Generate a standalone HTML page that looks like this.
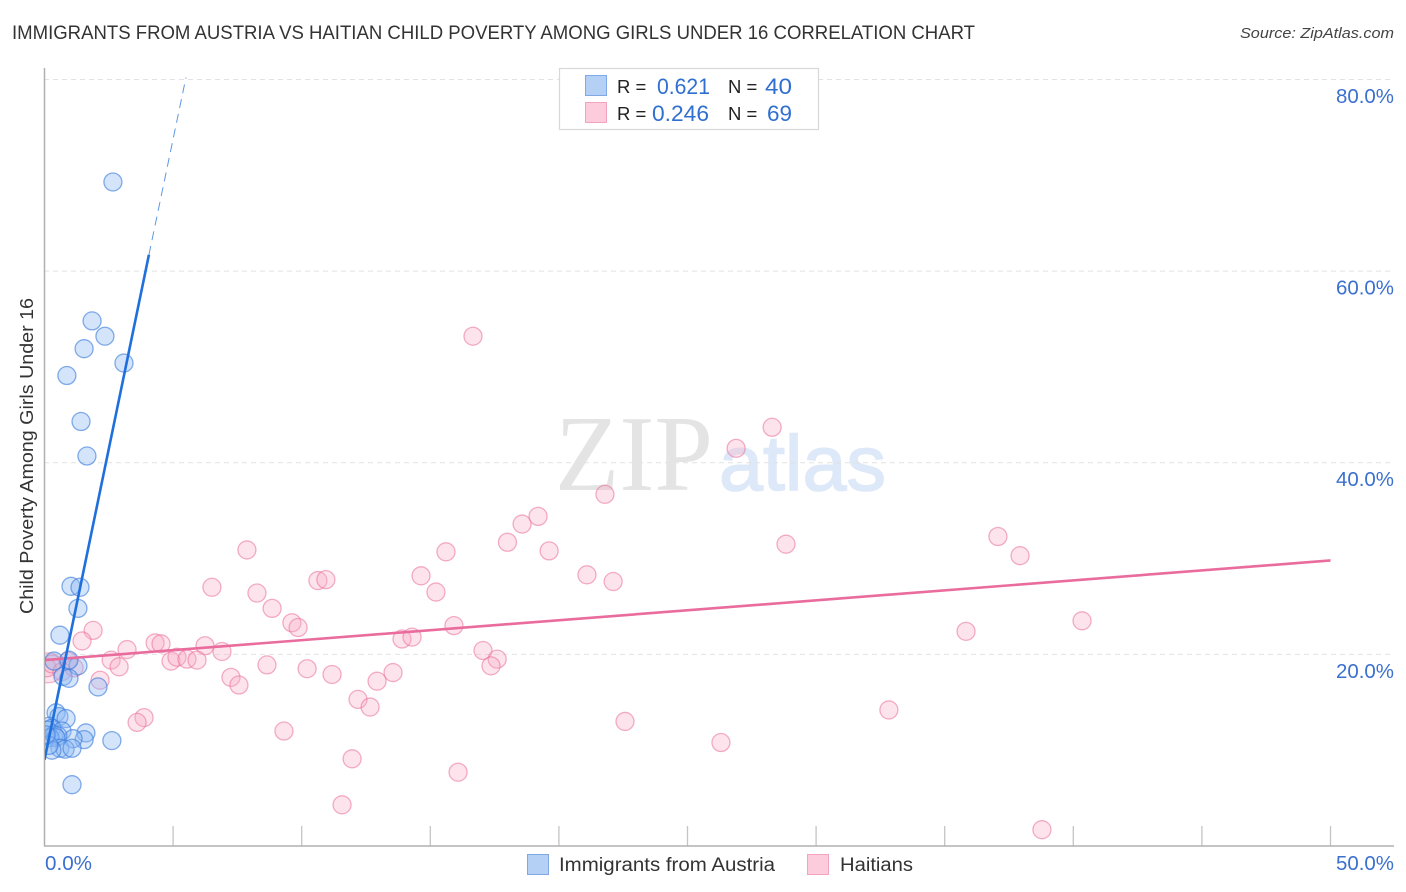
<!DOCTYPE html>
<html lang="en">
<head>
<meta charset="utf-8">
<title>Immigrants from Austria vs Haitian Child Poverty Correlation Chart</title>
<style>
html,body{margin:0;padding:0;background:#fff;width:1406px;height:892px;overflow:hidden}
svg{display:block;font-family:"Liberation Sans",sans-serif}
</style>
</head>
<body>
<svg id="chart" width="1406" height="892" viewBox="0 0 1406 892" xmlns="http://www.w3.org/2000/svg">
  <defs><clipPath id="plot-clip"><rect x="45" y="60" width="1349" height="786"/></clipPath></defs>
  <text x="12" y="39" font-size="19.5" fill="#333" textLength="963" lengthAdjust="spacingAndGlyphs">IMMIGRANTS FROM AUSTRIA VS HAITIAN CHILD POVERTY AMONG GIRLS UNDER 16 CORRELATION CHART</text>
  <text x="1240" y="38" font-size="15" font-style="italic" fill="#444" textLength="154" lengthAdjust="spacingAndGlyphs">Source: ZipAtlas.com</text>
  <g id="watermark">
    <text x="555" y="490" font-family="'Liberation Serif',serif" font-size="108" fill="#e4e4e4" textLength="158" lengthAdjust="spacingAndGlyphs">ZIP</text>
    <text x="719" y="490" font-size="78" fill="#dde8f8" stroke="#dde8f8" stroke-width="1.5" textLength="167" lengthAdjust="spacingAndGlyphs">atlas</text>
  </g>
  <g id="grid"></g>
  <g id="ticks"></g>
  <line x1="44.5" y1="68" x2="44.5" y2="846" stroke="#b0b0b0" stroke-width="1.5"/>
  <line x1="44" y1="846" x2="1394" y2="846" stroke="#b0b0b0" stroke-width="1.5"/>
  <text transform="translate(33,456) rotate(-90)" font-size="18" fill="#333" text-anchor="middle" textLength="316" lengthAdjust="spacingAndGlyphs">Child Poverty Among Girls Under 16</text>
  <g id="y-labels"></g>
  <g id="x-labels"></g>
  <g id="points" clip-path="url(#plot-clip)"></g>
  <g id="trend-lines" clip-path="url(#plot-clip)"></g>

  <g>
    <rect x="559.5" y="68.5" width="259" height="61" fill="#fff" stroke="#d8d8d8" stroke-width="1.2"/>
    <rect x="585.5" y="75.5" width="21" height="20" fill="#b5d0f5" stroke="#7fa8e6"/>
    <rect x="585.5" y="102.5" width="21" height="20" fill="#fccbdc" stroke="#f2a3bf"/>
    <text x="617" y="93" font-size="18.5" fill="#222">R =</text>
    <text x="657" y="94" font-size="22" fill="#2f6fd0" textLength="53" lengthAdjust="spacingAndGlyphs">0.621</text>
    <text x="728" y="93" font-size="18.5" fill="#222">N =</text>
    <text x="765" y="94" font-size="22" fill="#2f6fd0" textLength="27" lengthAdjust="spacingAndGlyphs">40</text>
    <text x="617" y="120" font-size="18.5" fill="#222">R =</text>
    <text x="652" y="121" font-size="22" fill="#2f6fd0" textLength="57" lengthAdjust="spacingAndGlyphs">0.246</text>
    <text x="728" y="120" font-size="18.5" fill="#222">N =</text>
    <text x="767" y="121" font-size="22" fill="#2f6fd0" textLength="25" lengthAdjust="spacingAndGlyphs">69</text>
  </g>

  <g>
    <rect x="527.5" y="854.5" width="21" height="20" fill="#b5d0f5" stroke="#7fa8e6"/>
    <text x="559" y="871" font-size="19" fill="#333" textLength="216" lengthAdjust="spacingAndGlyphs">Immigrants from Austria</text>
    <rect x="807.5" y="854.5" width="21" height="20" fill="#fccbdc" stroke="#f2a3bf"/>
    <text x="840" y="871" font-size="19" fill="#333" textLength="73" lengthAdjust="spacingAndGlyphs">Haitians</text>
  </g>
</svg>
<script>
var xTickValues = [5, 10, 15, 20, 25, 30, 35, 40, 45, 50];
var yTickValues = [20, 40, 60, 80];
var yTickLabels = ["20.0%", "40.0%", "60.0%", "80.0%"];
var xLabelValues = [0, 50];
var xLabelTexts = ["0.0%", "50.0%"];

var austriaX = [2.66,1.85,2.35,1.54,3.09,0.87,1.42,1.65,1.03,1.38,1.30,0.60,0.37,1.30,0.95,0.72,0.95,2.08,0.45,0.56,0.84,0.17,0.29,0.10,0.68,1.61,1.54,1.11,2.62,0.37,0.52,0.21,0.45,0.60,0.80,1.07,0.29,0.17,1.07,0.06];
var austriaY = [69.3,54.8,53.2,51.9,50.4,49.1,44.3,40.7,27.1,27.0,24.8,22.0,19.3,18.8,19.4,17.7,17.5,16.6,13.9,13.5,13.3,12.5,12.3,12.1,12.0,11.8,11.1,11.2,11.0,11.6,11.5,11.3,11.3,10.2,10.1,10.2,10.0,10.5,6.4,11.6];

var haitiansX = [16.66,28.29,26.89,21.79,18.57,19.19,18.0,19.62,15.61,7.87,28.83,37.07,37.93,21.09,22.11,14.64,10.63,10.94,6.51,8.26,15.22,8.85,9.62,9.86,15.92,40.34,35.83,1.89,1.46,13.9,14.29,4.3,4.53,3.21,6.24,6.9,17.05,17.6,17.36,2.59,2.9,4.92,5.15,5.54,5.93,8.65,10.21,11.18,13.55,12.93,7.25,7.56,2.16,12.19,12.66,32.83,22.57,3.87,3.6,9.31,26.3,11.96,16.08,11.57,38.78,0.10,0.29,0.91,0.68,1.15];
var haitiansY = [53.2,43.7,41.5,36.7,33.6,34.4,31.7,30.8,30.7,30.9,31.5,32.3,30.3,28.3,27.6,28.2,27.7,27.8,27.0,26.4,26.5,24.8,23.3,22.8,23.0,23.5,22.4,22.5,21.4,21.6,21.8,21.2,21.1,20.5,20.9,20.3,20.4,19.5,18.8,19.4,18.7,19.3,19.7,19.5,19.4,18.9,18.5,17.9,18.1,17.2,17.6,16.8,17.3,15.3,14.5,14.2,13.0,13.4,12.9,12.0,10.8,9.1,7.7,4.3,1.7,18.6,19.0,19.3,18.2,18.6];

var haitiansClusterX = [0.15];
var haitiansClusterY = [18.6];

var austriaTrendSolidX = [0, 4.06];
var austriaTrendSolidY = [9.0, 61.7];
var austriaTrendDashedX = [4.06, 5.5];
var austriaTrendDashedY = [61.7, 80.2];
var haitiansTrendX = [0, 50];
var haitiansTrendY = [19.4, 29.8];

var SVGNS = "http://www.w3.org/2000/svg";
function xScale(v) { return 44.5 + v * 25.72; }
function yScale(v) { return 846 - v * 9.582; }
function make(tag, attrs, parent) {
  var el = document.createElementNS(SVGNS, tag);
  for (var k in attrs) el.setAttribute(k, attrs[k]);
  parent.appendChild(el);
  return el;
}
var gridG = document.getElementById("grid");
var ticksG = document.getElementById("ticks");
var yLabelsG = document.getElementById("y-labels");
var xLabelsG = document.getElementById("x-labels");
var pointsG = document.getElementById("points");
var trendG = document.getElementById("trend-lines");

yTickValues.forEach(function (v, i) {
  var line = make("line", {x1: 44, x2: 1394, y1: yScale(v), y2: yScale(v), stroke: "#e2e2e2", "stroke-width": 1, "stroke-dasharray": "5 4"}, gridG);
  
  
  var label = make("text", {x: 1394, y: yScale(v) + 23.5, "font-size": 20, fill: "#3b70cf", "text-anchor": "end", textLength: 58, lengthAdjust: "spacingAndGlyphs"}, yLabelsG);
  label.textContent = yTickLabels[i];
  
  
});
xTickValues.forEach(function (v) {
  var tick = make("line", {x1: xScale(v), x2: xScale(v), y1: 826, y2: 846, stroke: "#c4c4c4", "stroke-width": 1.3}, ticksG);
  
  
});
xLabelValues.forEach(function (v, i) {
  var attrs = {x: i === 0 ? xScale(v) + 0.5 : 1394, y: 870, "font-size": 20, fill: "#3b70cf", "text-anchor": i === 0 ? "start" : "end", textLength: i === 0 ? 47 : 58, lengthAdjust: "spacingAndGlyphs"};
  var label = make("text", attrs, xLabelsG);
  label.textContent = xLabelTexts[i];
  
  
});

haitiansClusterX.forEach(function (v, i) {
  var c = make("circle", {cx: xScale(v), cy: yScale(haitiansClusterY[i]), r: 15, fill: "rgba(246,160,190,0.28)", stroke: "rgba(236,120,160,0.5)", "stroke-width": 1.3}, pointsG);
  
  
});
haitiansX.forEach(function (v, i) {
  var c = make("circle", {cx: xScale(v), cy: yScale(haitiansY[i]), r: 9, fill: "rgba(248,170,196,0.32)", stroke: "rgba(234,110,155,0.55)", "stroke-width": 1.3}, pointsG);
  
  
});
austriaX.forEach(function (v, i) {
  var c = make("circle", {cx: xScale(v), cy: yScale(austriaY[i]), r: 9, fill: "rgba(140,185,245,0.38)", stroke: "rgba(60,125,220,0.62)", "stroke-width": 1.3}, pointsG);
  
  
});

function drawTrend(xs, ys, color, width, dash, name) {
  var attrs = {x1: xScale(xs[0]), y1: yScale(ys[0]), x2: xScale(xs[1]), y2: yScale(ys[1]), stroke: color, "stroke-width": width};
  if (dash) attrs["stroke-dasharray"] = dash;
  var l = make("line", attrs, trendG);
  
  
}
drawTrend(haitiansTrendX, haitiansTrendY, "#e96c9d", 2.6, null, "haitians-trend-line");
drawTrend(austriaTrendSolidX, austriaTrendSolidY, "#1f6fdc", 2.6, null, "austria-trend-line");
drawTrend(austriaTrendDashedX, austriaTrendDashedY, "#5f97e3", 1, "9 6", "austria-trend-extension");
</script>
</body>
</html>
